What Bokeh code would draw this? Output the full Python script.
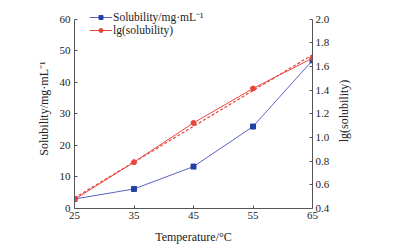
from bokeh.plotting import figure
from bokeh.models import Range1d, LinearAxis, Legend, LegendItem, FixedTicker, NumeralTickFormatter, Label
from bokeh.embed import file_html
from bokeh.resources import INLINE
import math

temperature = [25, 35, 45, 55, 65]
solubility = [3.0, 6.2, 13.3, 26.0, 47.0]
lg_solubility = [0.477, 0.792, 1.124, 1.415, 1.672]
fit_x = [25, 65]
fit_y = [0.49, 1.70]
x_ticks = [25, 35, 45, 55, 65]
left_ticks = [0, 10, 20, 30, 40, 50, 60]
right_ticks = [0.4, 0.6, 0.8, 1.0, 1.2, 1.4, 1.6, 1.8, 2.0]

FONT = "Liberation Serif"
BLUE_LINE = "#5b63c4"
BLUE_MARK = "#2340a8"
RED = "#e8453c"
AX = "#555555"

# frame extends 10px above the top tick so the legend fits; axis lines stop at the top tick
p = figure(width=417, height=246, output_backend="svg", toolbar_location=None,
           x_range=Range1d(25, 65), y_range=Range1d(0, 63.44),
           min_border_left=74, min_border_right=105, min_border_top=8, min_border_bottom=35)
p.extra_y_ranges = {"lg": Range1d(0.4, 2.0917)}
p.outline_line_color = None
p.grid.visible = False
p.background_fill_color = "white"
p.border_fill_color = "white"

r1l = p.line(temperature, solubility, line_color=BLUE_LINE, line_width=1)
r1m = p.scatter(temperature, solubility, marker="square", size=5, fill_color=BLUE_MARK, line_color=BLUE_MARK)
rf = p.line(fit_x, fit_y, y_range_name="lg", line_color=RED, line_width=1.2, line_dash="3 2")
r2l = p.line(temperature, lg_solubility, y_range_name="lg", line_color=RED, line_width=1)
r2m = p.scatter(temperature, lg_solubility, y_range_name="lg", marker="circle", size=5, fill_color=RED, line_color=RED)

right = LinearAxis(y_range_name="lg")
p.add_layout(right, "right")

for ax in [p.xaxis[0], p.yaxis[0], right]:
    ax.axis_line_color = AX
    ax.major_tick_line_color = AX
    ax.major_tick_in = 3
    ax.major_tick_out = 0
    ax.minor_tick_line_color = None
    ax.major_label_text_font = FONT
    ax.major_label_text_font_size = "11px"
    ax.major_label_text_color = "#222222"
    ax.axis_label_text_font = FONT
    ax.axis_label_text_font_size = "12px"
    ax.axis_label_text_font_style = "normal"
    ax.axis_label_text_color = "#222222"

p.xaxis[0].ticker = FixedTicker(ticks=x_ticks)
p.xaxis[0].axis_label = "Temperature/°C"
p.xaxis[0].major_label_standoff = 3
p.xaxis[0].axis_label_standoff = 8
p.yaxis[0].ticker = FixedTicker(ticks=left_ticks)
p.yaxis[0].bounds = (0, 60)
p.yaxis[0].axis_label = "Solubility/mg·mL⁻¹"
p.yaxis[0].major_label_standoff = 4
p.yaxis[0].axis_label_standoff = 6
right.ticker = FixedTicker(ticks=right_ticks)
right.bounds = (0.4, 2.0)
right.formatter = NumeralTickFormatter(format="0.0")
right.major_label_standoff = 3

right_title = Label(x=343, x_units="canvas", y=1.225, y_range_name="lg", text="lg(solubility)",
                    angle=math.pi / 2, text_align="center", text_baseline="middle", text_font=FONT,
                    text_font_size="12px", text_color="#222222")
p.add_layout(right_title, "right")

legend = Legend(items=[LegendItem(label="Solubility/mg·mL⁻¹", renderers=[r1l, r1m]),
                       LegendItem(label="lg(solubility)", renderers=[r2l, r2m])],
                location=(15, 172))
legend.border_line_color = None
legend.background_fill_alpha = 0
legend.padding = 0
legend.margin = 0
legend.spacing = -7
legend.glyph_width = 23
legend.glyph_height = 10
legend.label_height = 10
legend.label_standoff = 1
legend.label_text_font = FONT
legend.label_text_font_size = "11.5px"
legend.label_text_color = "#222222"
p.add_layout(legend, "center")

open("out.html", "w").write(file_html(p, INLINE))
